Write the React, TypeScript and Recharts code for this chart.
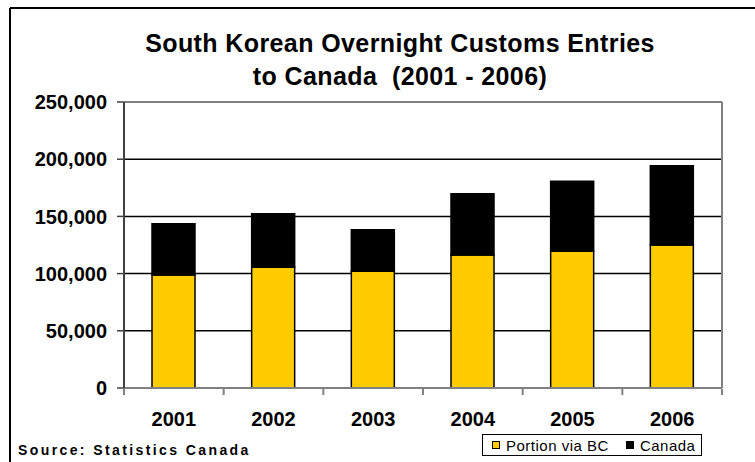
import React from "react";
import {
    BarChart,
    Bar,
    XAxis,
    YAxis,
    CartesianGrid,
    ReferenceLine,
    Legend,
} from "recharts";

const years = ["2001", "2002", "2003", "2004", "2005", "2006"];
const viaBC = [98800, 105500, 102000, 116300, 119500, 125000];
const canadaTotal = [143600, 152400, 138400, 169800, 180700, 194300];
const yTicks = [0, 50000, 100000, 150000, 200000, 250000];
const titleLines = ["South Korean Overnight Customs Entries", "to Canada  (2001 - 2006)"];
const sourceNote = "Source: Statistics Canada";
const seriesOrder = ["bc", "rest"];

// yellow = part via BC, black = rest of Canada total stacked on top
const data = years.map((year, i) => ({
    year,
    bc: viaBC[i],
    rest: canadaTotal[i] - viaBC[i],
    slot: i + 0.5,
}));
const bounds = [...years.map((_, i) => i), years.length];

const FONT = "'Liberation Sans', Arial, sans-serif";

function LegendBox(props: any) {
    const items = [...(props.payload || [])].sort(
        (a: any, b: any) => seriesOrder.indexOf(a.dataKey) - seriesOrder.indexOf(b.dataKey)
    );
    return (
        <div
            style={{
                border: "1px solid #000",
                height: 22,
                display: "flex",
                alignItems: "center",
                fontFamily: FONT,
                fontSize: 15,
                letterSpacing: 0.5,
                color: "#000",
                background: "#fff",
                boxSizing: "border-box",
                paddingLeft: 9,
                whiteSpace: "nowrap",
            }}
        >
            {items.map((item: any) => (
                <span
                    key={item.value}
                    style={{ display: "flex", alignItems: "center", marginRight: 17 }}
                >
                    <span
                        style={{
                            width: 8,
                            height: 8,
                            background: item.color,
                            border: "1px solid #000",
                            boxSizing: "border-box",
                            marginRight: 6,
                        }}
                    />
                    {item.value}
                </span>
            ))}
        </div>
    );
}

export default function App() {
    return (
        <div style={{ position: "absolute", left: 0, top: 0, width: 755, height: 462, background: "#fff" }}>
            <BarChart
                width={755}
                height={462}
                data={data}
                margin={{ top: 102, right: 33, left: 0, bottom: 72 }}
            >
                <CartesianGrid vertical={false} stroke="#000" strokeWidth={1.5} />
                <XAxis
                    xAxisId="bounds"
                    type="number"
                    dataKey="slot"
                    domain={[0, years.length]}
                    ticks={bounds}
                    interval={0}
                    allowDataOverflow
                    height={1}
                    axisLine={false}
                    tickFormatter={() => ""}
                    tickSize={6}
                    tickLine={{ stroke: "#808080", strokeWidth: 2 }}
                />
                <XAxis
                    dataKey="year"
                    height={1}
                    tickSize={0}
                    tickMargin={24}
                    axisLine={{ stroke: "#808080", strokeWidth: 2 }}
                    tickLine={false}
                    tick={{ fill: "#000", fontSize: 20, fontWeight: 700, fontFamily: FONT }}
                />
                <YAxis
                    width={124}
                    domain={[0, 250000]}
                    ticks={yTicks}
                    interval={0}
                    tickSize={7}
                    tickMargin={10}
                    axisLine={{ stroke: "#404040", strokeWidth: 2 }}
                    tickLine={{ stroke: "#404040", strokeWidth: 1.5 }}
                    tickFormatter={(v: number) => v.toLocaleString("en-US")}
                    tick={{ fill: "#000", fontSize: 20, fontWeight: 700, fontFamily: FONT }}
                />
                <ReferenceLine y={250000} stroke="#808080" strokeWidth={2} />
                <ReferenceLine x={years.length} xAxisId="bounds" stroke="#808080" strokeWidth={2} />
                <Bar
                    dataKey="bc"
                    name="Portion via BC"
                    stackId="a"
                    fill="#FFCC00"
                    stroke="#000"
                    strokeWidth={1.5}
                    barSize={43}
                    isAnimationActive={false}
                />
                <Bar
                    dataKey="rest"
                    name="Canada"
                    stackId="a"
                    fill="#000"
                    stroke="#000"
                    strokeWidth={1.5}
                    barSize={43}
                    isAnimationActive={false}
                />
                <Legend
                    layout="horizontal"
                    verticalAlign="middle"
                    align="center"
                    content={<LegendBox />}
                    wrapperStyle={{ left: 482, top: 434, width: 220, height: 22, right: "auto", bottom: "auto" }}
                />
            </BarChart>
            <svg
                width={755}
                height={462}
                style={{ position: "absolute", left: 0, top: 0, pointerEvents: "none" }}
            >
                <line x1={10} y1={8} x2={755} y2={8} stroke="#000" strokeWidth={2} />
                <line x1={10} y1={8} x2={10} y2={462} stroke="#000" strokeWidth={2} />
                {titleLines.map((line, i) => (
                    <text
                        key={line}
                        x={400}
                        y={52 + i * 33}
                        textAnchor="middle"
                        fontFamily={FONT}
                        fontSize={25}
                        fontWeight={700}
                        letterSpacing={0.4}
                        style={{ whiteSpace: "pre" }}
                    >
                        {line}
                    </text>
                ))}
                <text
                    x={18}
                    y={455}
                    fontFamily={FONT}
                    fontSize={14}
                    fontWeight={700}
                    letterSpacing={2.4}
                >
                    {sourceNote}
                </text>
            </svg>
        </div>
    );
}
